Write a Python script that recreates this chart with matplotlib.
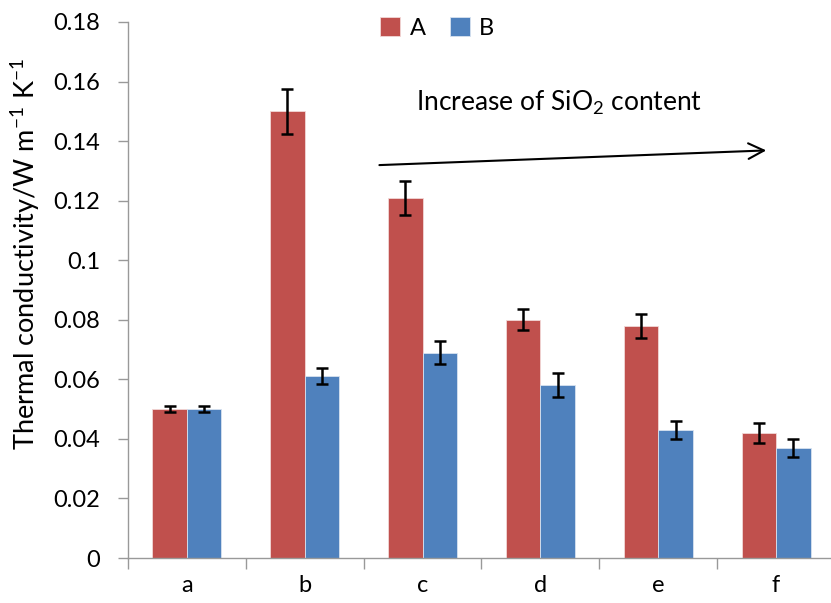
import numpy as np
import matplotlib.pyplot as plt

plt.rcParams['font.family'] = ['Lato', 'DejaVu Sans']
plt.rcParams['mathtext.fontset'] = 'custom'
plt.rcParams['mathtext.rm'] = 'Lato'
plt.rcParams['mathtext.it'] = 'Lato'

categories = ['a', 'b', 'c', 'd', 'e', 'f']
series_a = [0.050, 0.150, 0.121, 0.080, 0.078, 0.042]
series_b = [0.050, 0.061, 0.069, 0.058, 0.043, 0.037]
err_a = [0.001, 0.0075, 0.0057, 0.0035, 0.004, 0.0033]
err_b = [0.001, 0.0027, 0.004, 0.004, 0.003, 0.003]
yticks = [0, 0.02, 0.04, 0.06, 0.08, 0.1, 0.12, 0.14, 0.16, 0.18]
ytick_labels = ['0', '0.02', '0.04', '0.06', '0.08', '0.1', '0.12', '0.14', '0.16', '0.18']

red = '#C0504D'
blue = '#4F81BD'

fig = plt.figure(figsize=(8.31, 6.03), dpi=100)
ax = fig.add_axes([0.1540, 0.0746, 0.846, 0.889])

x = np.arange(len(categories))
w = 0.293
err_kw = dict(ecolor='black', elinewidth=1.8, capsize=4.2, capthick=1.8)
ax.bar(x - w / 2, series_a, w, yerr=err_a, color=red, edgecolor='#f2d8d7', linewidth=0.6,
       label='A', error_kw=err_kw)
ax.bar(x + w / 2, series_b, w, yerr=err_b, color=blue, edgecolor='#d8e2f0', linewidth=0.6,
       label='B', error_kw=err_kw)

ax.set_xlim(-0.5, 5.466)
ax.set_ylim(0, 0.18)
ax.set_yticks(yticks)
ax.set_yticklabels(ytick_labels, fontsize=17)
ax.set_xticks(x)
ax.set_xticklabels(categories, fontsize=17)
ax.set_xticks(np.arange(-0.5, 5.5, 1), minor=True)
ax.tick_params(axis='x', which='major', length=0, pad=12)
ax.tick_params(axis='x', which='minor', length=8, color='#999999', width=1)
ax.tick_params(axis='y', length=7, color='#999999', width=1, pad=13)

for s in ['top', 'right']:
    ax.spines[s].set_visible(False)
for s in ['left', 'bottom']:
    ax.spines[s].set_color('#999999')
    ax.spines[s].set_linewidth(1)

ax.set_ylabel('Thermal conductivity/W m$^{-1}$ K$^{-1}$', fontsize=19.5)
ax.yaxis.set_label_coords(-0.123, 0.568)

ax.legend(loc='upper center', bbox_to_anchor=(0.44, 1.048), ncol=2, frameon=False,
          fontsize=17, handlelength=0.85, handleheight=0.85, handletextpad=0.4,
          columnspacing=1.0)

ax.annotate('', xy=(4.94, 0.1369), xytext=(1.61, 0.1319),
            arrowprops=dict(arrowstyle='->', color='black', lw=1.5, mutation_scale=28))
ax.text(3.16, 0.1527, 'Increase of SiO$_2$ content', fontsize=19, ha='center', va='center')

fig.savefig('out.png', dpi=100)
